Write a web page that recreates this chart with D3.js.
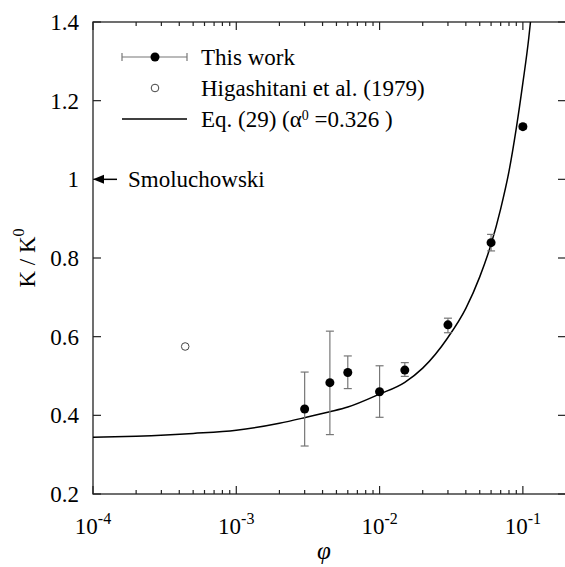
<!DOCTYPE html>
<html>
<head>
<meta charset="utf-8">
<script src="https://cdn.jsdelivr.net/npm/d3@7"></script>
<style>
  html, body { margin: 0; padding: 0; background: #fff; }
  svg { display: block; }
</style>
</head>
<body>
<script>
// ---- data ----
const workPhi   = [0.003, 0.0045, 0.006, 0.01, 0.015, 0.03, 0.06, 0.1];
const workK     = [0.416, 0.483, 0.509, 0.460, 0.515, 0.630, 0.839, 1.134];
const workLow   = [0.322, 0.351, 0.468, 0.395, 0.499, 0.610, 0.818, 1.128];
const workHigh  = [0.510, 0.614, 0.551, 0.526, 0.534, 0.647, 0.860, 1.140];
const higPhi    = [0.00044];
const higK      = [0.575];
const eqPhi     = [0.0001, 0.0002, 0.0005, 0.001, 0.002, 0.003, 0.0045, 0.006, 0.01, 0.015, 0.02, 0.03, 0.04, 0.05, 0.06, 0.07, 0.08, 0.09, 0.1, 0.11, 0.113, 0.116];
const eqK       = [0.344, 0.347, 0.354, 0.362, 0.380, 0.394, 0.409, 0.421, 0.454, 0.484, 0.520, 0.598, 0.672, 0.752, 0.835, 0.925, 1.020, 1.130, 1.245, 1.360, 1.400, 1.445];
const yTicks    = [0.2, 0.4, 0.6, 0.8, 1.0, 1.2, 1.4];
const yTickLabels = ["0.2", "0.4", "0.6", "0.8", "1", "1.2", "1.4"];
const xTicks    = [1e-4, 1e-3, 1e-2, 1e-1];
const xTickExp  = ["-4", "-3", "-2", "-1"];
const legendLabels = ["This work", "Higashitani et al. (1979)"];
const smolK = 1.0;

// ---- layout ----
const W = 565, H = 567;
const L = 93, R = 566, T = 22, B = 494;
const FONT = "'Liberation Serif', 'Times New Roman', 'DejaVu Serif', serif";
const FS = 23;
const svg = d3.select("body").append("svg").attr("width", W).attr("height", H)
  .attr("font-family", FONT);

const x = d3.scaleLog().domain([1e-4, 0.2]).range([L, R]);
const y = d3.scaleLinear().domain([0.2, 1.4]).range([B, T]);

svg.append("defs").append("clipPath").attr("id", "clip")
  .append("rect").attr("x", L).attr("y", T).attr("width", R - L).attr("height", B - T);

// frame
svg.append("rect").attr("x", L).attr("y", T).attr("width", R - L).attr("height", B - T)
  .attr("fill", "none").attr("stroke", "#222").attr("stroke-width", 1.3);

// ticks
const minor = [];
for (let e = -4; e <= -1; e++) for (let m = 2; m <= 9; m++) { const v = m * Math.pow(10, e); if (v <= 0.2) minor.push(v); }
const tg = svg.append("g").attr("stroke", "#222").attr("stroke-width", 1.2);
xTicks.forEach(v => {
  tg.append("line").attr("x1", x(v)).attr("x2", x(v)).attr("y1", B).attr("y2", B - 8);
  tg.append("line").attr("x1", x(v)).attr("x2", x(v)).attr("y1", T).attr("y2", T + 8);
});
minor.forEach(v => {
  tg.append("line").attr("x1", x(v)).attr("x2", x(v)).attr("y1", B).attr("y2", B - 4);
  tg.append("line").attr("x1", x(v)).attr("x2", x(v)).attr("y1", T).attr("y2", T + 4);
});
yTicks.forEach(v => {
  tg.append("line").attr("x1", L).attr("x2", L + 8).attr("y1", y(v)).attr("y2", y(v));
  tg.append("line").attr("x1", R).attr("x2", R - 8).attr("y1", y(v)).attr("y2", y(v));
});

// y tick labels
yTicks.forEach((v, i) => {
  svg.append("text").attr("x", 79).attr("y", y(v) + 8).attr("text-anchor", "end")
    .attr("font-size", FS).attr("fill", "#000").text(yTickLabels[i]);
});
// x tick labels
xTicks.forEach((v, i) => {
  const t = svg.append("text").attr("x", x(v)).attr("y", 534).attr("text-anchor", "middle")
    .attr("font-size", FS).attr("fill", "#000");
  t.append("tspan").text("10");
  t.append("tspan").attr("font-size", 16).attr("dy", -10).text(xTickExp[i]);
});

// axis labels
svg.append("text").attr("x", 324).attr("y", 559).attr("text-anchor", "middle")
  .attr("font-size", 25).attr("font-style", "italic").text("φ");
const yl = svg.append("text").attr("transform", "translate(35,258) rotate(-90)")
  .attr("text-anchor", "middle").attr("font-size", FS);
yl.append("tspan").text("K / K");
yl.append("tspan").attr("font-size", 16).attr("dy", -11).text("0");

// Eq. (29) curve
const line = d3.line().x(d => x(d[0])).y(d => y(d[1])).curve(d3.curveMonotoneX);
svg.append("path").datum(eqPhi.map((p, i) => [p, eqK[i]]))
  .attr("clip-path", "url(#clip)")
  .attr("d", line).attr("fill", "none").attr("stroke", "#000").attr("stroke-width", 1.5);

// error bars
const eb = svg.append("g").attr("stroke", "#777").attr("stroke-width", 1.2);
workPhi.forEach((p, i) => {
  const cx = x(p);
  eb.append("line").attr("x1", cx).attr("x2", cx).attr("y1", y(workLow[i])).attr("y2", y(workHigh[i]));
  eb.append("line").attr("x1", cx - 4).attr("x2", cx + 4).attr("y1", y(workLow[i])).attr("y2", y(workLow[i]));
  eb.append("line").attr("x1", cx - 4).attr("x2", cx + 4).attr("y1", y(workHigh[i])).attr("y2", y(workHigh[i]));
});
// points
svg.append("g").selectAll("circle").data(workPhi).join("circle")
  .attr("cx", d => x(d)).attr("cy", (d, i) => y(workK[i])).attr("r", 4.5).attr("fill", "#000");
svg.append("g").selectAll("circle").data(higPhi).join("circle")
  .attr("cx", d => x(d)).attr("cy", (d, i) => y(higK[i])).attr("r", 3.8)
  .attr("fill", "none").attr("stroke", "#444").attr("stroke-width", 1);

// Smoluchowski arrow
const ay = y(smolK);
svg.append("line").attr("x1", L + 9).attr("x2", 117).attr("y1", ay).attr("y2", ay)
  .attr("stroke", "#000").attr("stroke-width", 1.5);
svg.append("path").attr("d", `M${L},${ay} L${L + 11},${ay - 4.5} L${L + 11},${ay + 4.5} Z`).attr("fill", "#000");
svg.append("text").attr("x", 128).attr("y", ay + 8).attr("font-size", FS).text("Smoluchowski");

// legend
const lg = svg.append("g");
const r1 = 57, r2 = 88, r3 = 119;
lg.append("line").attr("x1", 122).attr("x2", 187).attr("y1", r1).attr("y2", r1).attr("stroke", "#777").attr("stroke-width", 1.2);
lg.append("line").attr("x1", 122).attr("x2", 122).attr("y1", r1 - 4).attr("y2", r1 + 4).attr("stroke", "#777").attr("stroke-width", 1.2);
lg.append("line").attr("x1", 187).attr("x2", 187).attr("y1", r1 - 4).attr("y2", r1 + 4).attr("stroke", "#777").attr("stroke-width", 1.2);
lg.append("circle").attr("cx", 155).attr("cy", r1).attr("r", 4.5).attr("fill", "#000");
lg.append("text").attr("x", 201).attr("y", r1 + 8).attr("font-size", FS).text(legendLabels[0]);
lg.append("circle").attr("cx", 155).attr("cy", r2).attr("r", 3.8).attr("fill", "none").attr("stroke", "#444").attr("stroke-width", 1);
lg.append("text").attr("x", 201).attr("y", r2 + 8).attr("font-size", FS).text(legendLabels[1]);
lg.append("line").attr("x1", 122).attr("x2", 187).attr("y1", r3).attr("y2", r3).attr("stroke", "#000").attr("stroke-width", 1.5);
const et = lg.append("text").attr("x", 201).attr("y", r3 + 8).attr("font-size", FS);
et.append("tspan").text("Eq. (29) (α");
et.append("tspan").attr("font-size", 14).attr("dy", -7).text("0");
et.append("tspan").attr("dy", 7).text(" =0.326 )");
</script>
</body>
</html>
